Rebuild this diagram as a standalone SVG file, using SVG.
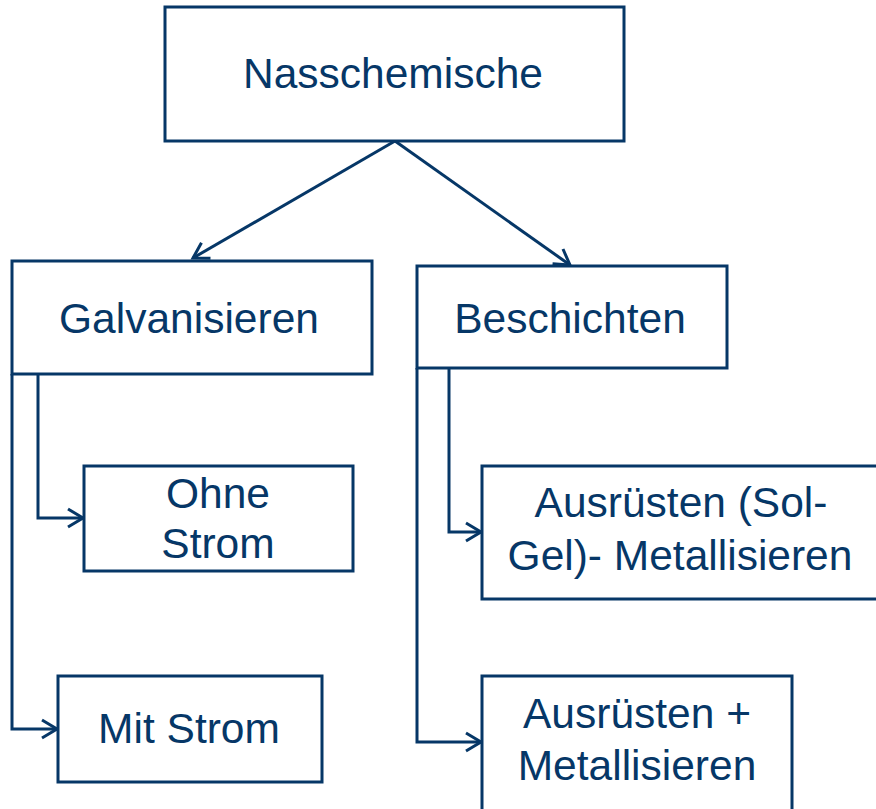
<svg xmlns="http://www.w3.org/2000/svg" width="876" height="809" viewBox="0 0 876 809">
<defs>
<style>
.box{fill:#fff;stroke:#063767;stroke-width:3}
.t{font-family:"Liberation Sans",Arial,sans-serif;font-size:42.5px;fill:#063767;text-anchor:middle}
.c{fill:none;stroke:#063767;stroke-width:3}
</style>
<marker id="ah" markerUnits="userSpaceOnUse" markerWidth="30" markerHeight="30" viewBox="-20 -15 30 30" refX="0" refY="0" orient="auto">
<path d="M-15,-9 L0,0 L-15,9" fill="none" stroke="#063767" stroke-width="3"/>
</marker>
</defs>
<rect width="876" height="809" fill="#fff"/>
<g id="connectors">
<path class="c" d="M395,141 L193,258" marker-end="url(#ah)"/>
<path class="c" d="M395,141 L570,265" marker-end="url(#ah)"/>
<path class="c" d="M38,374 L38,518 L83,518" marker-end="url(#ah)"/>
<path class="c" d="M12,374 L12,729 L57,729" marker-end="url(#ah)"/>
<path class="c" d="M449,368 L449,532 L481,532" marker-end="url(#ah)"/>
<path class="c" d="M417,368 L417,742 L481,742" marker-end="url(#ah)"/>
</g>
<g id="n-nass"><rect class="box" x="165" y="7" width="459" height="134"/><text class="t" x="393" y="88">Nasschemische</text></g>
<g id="n-galv"><rect class="box" x="12" y="261" width="360" height="113"/><text class="t" x="189" y="333">Galvanisieren</text></g>
<g id="n-besch"><rect class="box" x="417" y="266" width="310" height="102"/><text class="t" x="570" y="333">Beschichten</text></g>
<g id="n-ohne"><rect class="box" x="84" y="466" width="269" height="105"/><text class="t" x="218" y="508">Ohne</text><text class="t" x="218" y="558">Strom</text></g>
<g id="n-mit"><rect class="box" x="58" y="676" width="264" height="106"/><text class="t" x="189" y="743">Mit Strom</text></g>
<g id="n-solgel"><rect class="box" x="482" y="466" width="398" height="133"/><text class="t" x="681" y="517">Ausrüsten (Sol-</text><text class="t" x="680" y="570">Gel)- Metallisieren</text></g>
<g id="n-ausmet"><rect class="box" x="482" y="676" width="310" height="140"/><text class="t" x="637" y="728">Ausrüsten +</text><text class="t" x="637" y="780">Metallisieren</text></g>
</svg>
